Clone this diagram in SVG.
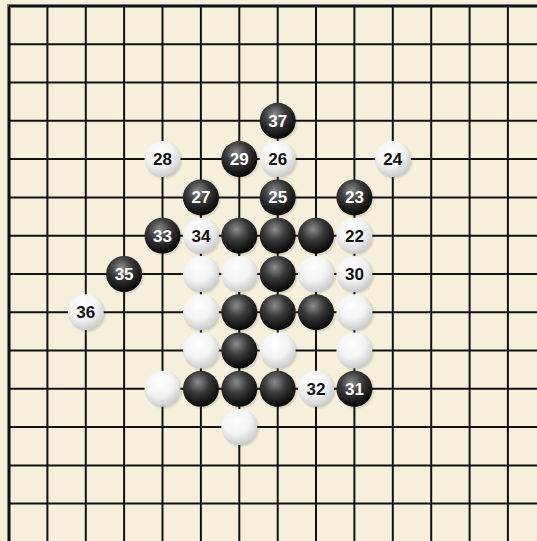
<svg xmlns="http://www.w3.org/2000/svg" width="537" height="541" viewBox="0 0 537 541">
<defs>
<radialGradient id="gb" cx="0.42" cy="0.32" r="0.68">
<stop offset="0" stop-color="#8c8c8c"/>
<stop offset="0.45" stop-color="#3a3a3a"/>
<stop offset="1" stop-color="#050505"/>
</radialGradient>
<radialGradient id="gw" cx="0.42" cy="0.32" r="0.7">
<stop offset="0" stop-color="#ffffff"/>
<stop offset="0.55" stop-color="#f2f2f2"/>
<stop offset="1" stop-color="#c9c9c9"/>
</radialGradient>
<radialGradient id="gs" cx="0.5" cy="0.5" r="0.5">
<stop offset="0.7" stop-color="#000" stop-opacity="0.25"/>
<stop offset="1" stop-color="#000" stop-opacity="0"/>
</radialGradient>
</defs>
<style>
.ln{stroke:#111;stroke-width:2;fill:none}
.bd{stroke:#777;stroke-width:4;fill:none}
.sh{fill:url(#gs)}
.b{fill:url(#gb)}
.w{fill:url(#gw)}
text{font-family:"Liberation Sans",Arial,sans-serif;font-weight:bold;font-size:17px;text-anchor:middle;dominant-baseline:central}
.tb{fill:#fff}
.tw{fill:#111}
</style>
<rect x="0" y="0" width="537" height="541" fill="#f5efdc"/>
<g id="grid">
<path class="bd" d="M9,541 V6 H537"/>
<path class="ln" d="M9,6 V541 M47.4,6 V541 M85.8,6 V541 M124.1,6 V541 M162.5,6 V541 M200.9,6 V541 M239.3,6 V541 M277.7,6 V541 M316,6 V541 M354.4,6 V541 M392.8,6 V541 M431.2,6 V541 M469.6,6 V541 M507.9,6 V541"/>
<path class="ln" d="M9,6 H537 M9,44.3 H537 M9,82.6 H537 M9,120.8 H537 M9,159.1 H537 M9,197.4 H537 M9,235.7 H537 M9,274 H537 M9,312.2 H537 M9,350.5 H537 M9,388.8 H537 M9,427.1 H537 M9,465.4 H537 M9,503.6 H537"/>
</g>
<g id="stones">
<g id="s37"><circle class="sh" cx="279.2" cy="122.3" r="19.5"/><circle class="b" cx="277.7" cy="120.8" r="18"/><text class="tb" x="277.7" y="121.3">37</text></g>
<g id="s28"><circle class="sh" cx="164" cy="160.6" r="19.5"/><circle class="w" cx="162.5" cy="159.1" r="18"/><text class="tw" x="162.5" y="159.6">28</text></g>
<g id="s29"><circle class="sh" cx="240.8" cy="160.6" r="19.5"/><circle class="b" cx="239.3" cy="159.1" r="18"/><text class="tb" x="239.3" y="159.6">29</text></g>
<g id="s26"><circle class="sh" cx="279.2" cy="160.6" r="19.5"/><circle class="w" cx="277.7" cy="159.1" r="18"/><text class="tw" x="277.7" y="159.6">26</text></g>
<g id="s24"><circle class="sh" cx="394.3" cy="160.6" r="19.5"/><circle class="w" cx="392.8" cy="159.1" r="18"/><text class="tw" x="392.8" y="159.6">24</text></g>
<g id="s27"><circle class="sh" cx="202.4" cy="198.9" r="19.5"/><circle class="b" cx="200.9" cy="197.4" r="18"/><text class="tb" x="200.9" y="197.9">27</text></g>
<g id="s25"><circle class="sh" cx="279.2" cy="198.9" r="19.5"/><circle class="b" cx="277.7" cy="197.4" r="18"/><text class="tb" x="277.7" y="197.9">25</text></g>
<g id="s23"><circle class="sh" cx="355.9" cy="198.9" r="19.5"/><circle class="b" cx="354.4" cy="197.4" r="18"/><text class="tb" x="354.4" y="197.9">23</text></g>
<g id="s33"><circle class="sh" cx="164" cy="237.2" r="19.5"/><circle class="b" cx="162.5" cy="235.7" r="18"/><text class="tb" x="162.5" y="236.2">33</text></g>
<g id="s34"><circle class="sh" cx="202.4" cy="237.2" r="19.5"/><circle class="w" cx="200.9" cy="235.7" r="18"/><text class="tw" x="200.9" y="236.2">34</text></g>
<g id="b6_6"><circle class="sh" cx="240.8" cy="237.2" r="19.5"/><circle class="b" cx="239.3" cy="235.7" r="18"/></g>
<g id="b7_6"><circle class="sh" cx="279.2" cy="237.2" r="19.5"/><circle class="b" cx="277.7" cy="235.7" r="18"/></g>
<g id="b8_6"><circle class="sh" cx="317.5" cy="237.2" r="19.5"/><circle class="b" cx="316" cy="235.7" r="18"/></g>
<g id="s22"><circle class="sh" cx="355.9" cy="237.2" r="19.5"/><circle class="w" cx="354.4" cy="235.7" r="18"/><text class="tw" x="354.4" y="236.2">22</text></g>
<g id="s35"><circle class="sh" cx="125.6" cy="275.5" r="19.5"/><circle class="b" cx="124.1" cy="274" r="18"/><text class="tb" x="124.1" y="274.5">35</text></g>
<g id="w5_7"><circle class="sh" cx="202.4" cy="275.5" r="19.5"/><circle class="w" cx="200.9" cy="274" r="18"/></g>
<g id="w6_7"><circle class="sh" cx="240.8" cy="275.5" r="19.5"/><circle class="w" cx="239.3" cy="274" r="18"/></g>
<g id="b7_7"><circle class="sh" cx="279.2" cy="275.5" r="19.5"/><circle class="b" cx="277.7" cy="274" r="18"/></g>
<g id="w8_7"><circle class="sh" cx="317.5" cy="275.5" r="19.5"/><circle class="w" cx="316" cy="274" r="18"/></g>
<g id="s30"><circle class="sh" cx="355.9" cy="275.5" r="19.5"/><circle class="w" cx="354.4" cy="274" r="18"/><text class="tw" x="354.4" y="274.5">30</text></g>
<g id="s36"><circle class="sh" cx="87.3" cy="313.7" r="19.5"/><circle class="w" cx="85.8" cy="312.2" r="18"/><text class="tw" x="85.8" y="312.7">36</text></g>
<g id="w5_8"><circle class="sh" cx="202.4" cy="313.7" r="19.5"/><circle class="w" cx="200.9" cy="312.2" r="18"/></g>
<g id="b6_8"><circle class="sh" cx="240.8" cy="313.7" r="19.5"/><circle class="b" cx="239.3" cy="312.2" r="18"/></g>
<g id="b7_8"><circle class="sh" cx="279.2" cy="313.7" r="19.5"/><circle class="b" cx="277.7" cy="312.2" r="18"/></g>
<g id="b8_8"><circle class="sh" cx="317.5" cy="313.7" r="19.5"/><circle class="b" cx="316" cy="312.2" r="18"/></g>
<g id="w9_8"><circle class="sh" cx="355.9" cy="313.7" r="19.5"/><circle class="w" cx="354.4" cy="312.2" r="18"/></g>
<g id="w5_9"><circle class="sh" cx="202.4" cy="352" r="19.5"/><circle class="w" cx="200.9" cy="350.5" r="18"/></g>
<g id="b6_9"><circle class="sh" cx="240.8" cy="352" r="19.5"/><circle class="b" cx="239.3" cy="350.5" r="18"/></g>
<g id="w7_9"><circle class="sh" cx="279.2" cy="352" r="19.5"/><circle class="w" cx="277.7" cy="350.5" r="18"/></g>
<g id="w9_9"><circle class="sh" cx="355.9" cy="352" r="19.5"/><circle class="w" cx="354.4" cy="350.5" r="18"/></g>
<g id="w4_10"><circle class="sh" cx="164" cy="390.3" r="19.5"/><circle class="w" cx="162.5" cy="388.8" r="18"/></g>
<g id="b5_10"><circle class="sh" cx="202.4" cy="390.3" r="19.5"/><circle class="b" cx="200.9" cy="388.8" r="18"/></g>
<g id="b6_10"><circle class="sh" cx="240.8" cy="390.3" r="19.5"/><circle class="b" cx="239.3" cy="388.8" r="18"/></g>
<g id="b7_10"><circle class="sh" cx="279.2" cy="390.3" r="19.5"/><circle class="b" cx="277.7" cy="388.8" r="18"/></g>
<g id="s32"><circle class="sh" cx="317.5" cy="390.3" r="19.5"/><circle class="w" cx="316" cy="388.8" r="18"/><text class="tw" x="316" y="389.3">32</text></g>
<g id="s31"><circle class="sh" cx="355.9" cy="390.3" r="19.5"/><circle class="b" cx="354.4" cy="388.8" r="18"/><text class="tb" x="354.4" y="389.3">31</text></g>
<g id="w6_11"><circle class="sh" cx="240.8" cy="428.6" r="19.5"/><circle class="w" cx="239.3" cy="427.1" r="18"/></g>
</g>
</svg>
